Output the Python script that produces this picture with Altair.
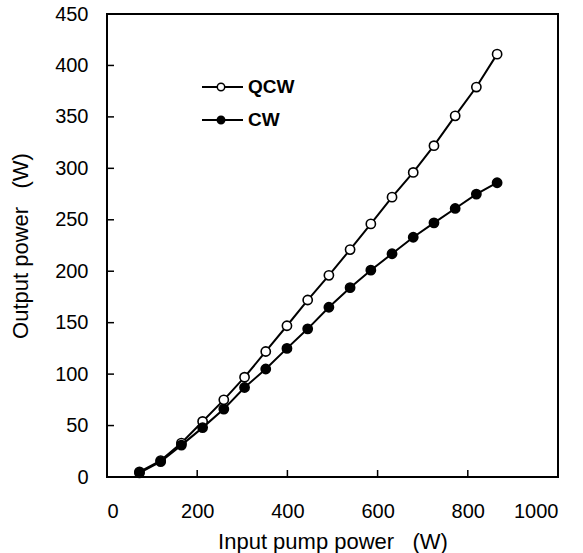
import altair as alt
import pandas as pd

# Measured laser output versus pump power, quasi-CW and CW operation
pump_power = [72, 119, 165, 212, 259, 305, 352, 399, 445, 492, 539, 585, 632, 679, 725, 772, 819, 865]
qcw_output = [5, 16, 33, 54, 75, 97, 122, 147, 172, 196, 221, 246, 272, 296, 322, 351, 379, 411]
cw_output = [4, 15, 31, 48, 66, 87, 105, 125, 144, 165, 184, 201, 217, 233, 247, 261, 275, 286]
series_names = ["QCW", "CW"]
series_fill = ["white", "black"]

x_ticks = [0, 200, 400, 600, 800, 1000]
y_ticks = [0, 50, 100, 150, 200, 250, 300, 350, 400, 450]

FONT = "Arial"
W, H = 451, 463
NBSP = "\u00a0"

rows = []
for p, q, c in zip(pump_power, qcw_output, cw_output):
    rows.append({"pump": p, "output": q, "mode": "QCW"})
    rows.append({"pump": p, "output": c, "mode": "CW"})
df = pd.DataFrame(rows)

xs = alt.Scale(domain=[0, 1000], nice=False)
ys = alt.Scale(domain=[0, 450], nice=False)
fill_scale = alt.Scale(domain=series_names, range=series_fill)

x_axis = alt.Axis(
    values=x_ticks, format="d", title="Input pump power" + NBSP * 3 + "(W)",
    grid=False, domain=False, ticks=False, labelPadding=24,
    labelFontSize=20, titleFontSize=22, labelFont=FONT, titleFont=FONT,
    titleFontWeight="normal", titleBaseline="alphabetic", titleY=71,
    labelColor="black", titleColor="black",
)
y_axis = alt.Axis(
    values=y_ticks, format="d", title="Output power" + NBSP * 3 + "(W)",
    grid=False, domain=False, ticks=False, labelPadding=19,
    labelFontSize=20, titleFontSize=22, labelFont=FONT, titleFont=FONT,
    titleFontWeight="normal", titleBaseline="alphabetic", titleX=-80,
    labelColor="black", titleColor="black",
)

base = alt.Chart(df)

lines = base.mark_line(color="black", strokeWidth=2).encode(
    x=alt.X("pump:Q", scale=xs, axis=x_axis),
    y=alt.Y("output:Q", scale=ys, axis=y_axis),
    detail="mode:N",
)

points = base.mark_point(shape="circle", size=85, stroke="black", strokeWidth=1.6, opacity=1).encode(
    x=alt.X("pump:Q", scale=xs),
    y=alt.Y("output:Q", scale=ys),
    fill=alt.Fill("mode:N", scale=fill_scale, legend=None),
)

# Inward tick marks on the left and bottom frame
y_tick_df = pd.DataFrame({"v": y_ticks[1:-1]})
x_tick_df = pd.DataFrame({"v": x_ticks[1:-1]})
y_tick_marks = alt.Chart(y_tick_df).mark_rule(color="black", strokeWidth=1.5).encode(
    y=alt.Y("v:Q", scale=ys), x=alt.value(0), x2=alt.value(7)
)
x_tick_marks = alt.Chart(x_tick_df).mark_rule(color="black", strokeWidth=1.5).encode(
    x=alt.X("v:Q", scale=xs), y=alt.value(H), y2=alt.value(H - 7)
)

# Hand-drawn legend: line with marker, then label
legend_df = pd.DataFrame({
    "mode": series_names,
    "ly": [73, 106],
})
leg_line = alt.Chart(legend_df).mark_rule(color="black", strokeWidth=2).encode(
    x=alt.value(95), x2=alt.value(136), y=alt.Y("ly:Q", scale=None)
)
leg_pt = alt.Chart(legend_df).mark_point(shape="circle", size=55, stroke="black", strokeWidth=1.5, opacity=1).encode(
    x=alt.value(114), y=alt.Y("ly:Q", scale=None),
    fill=alt.Fill("mode:N", scale=fill_scale, legend=None),
)
leg_text = alt.Chart(legend_df).mark_text(
    align="left", baseline="middle", font=FONT, fontSize=19, fontWeight="bold", color="black"
).encode(x=alt.value(141), y=alt.Y("ly:Q", scale=None), text="mode:N")

chart = alt.layer(
    lines, points, y_tick_marks, x_tick_marks, leg_line, leg_pt, leg_text
).properties(
    width=W, height=H,
    autosize=alt.AutoSizeParams(type="none"),
    padding={"left": 107, "top": 14, "right": 25, "bottom": 76},
    background="white",
).configure_view(stroke="black", strokeWidth=2)

chart.save("out.html", embed_options={"renderer": "svg", "actions": False})
